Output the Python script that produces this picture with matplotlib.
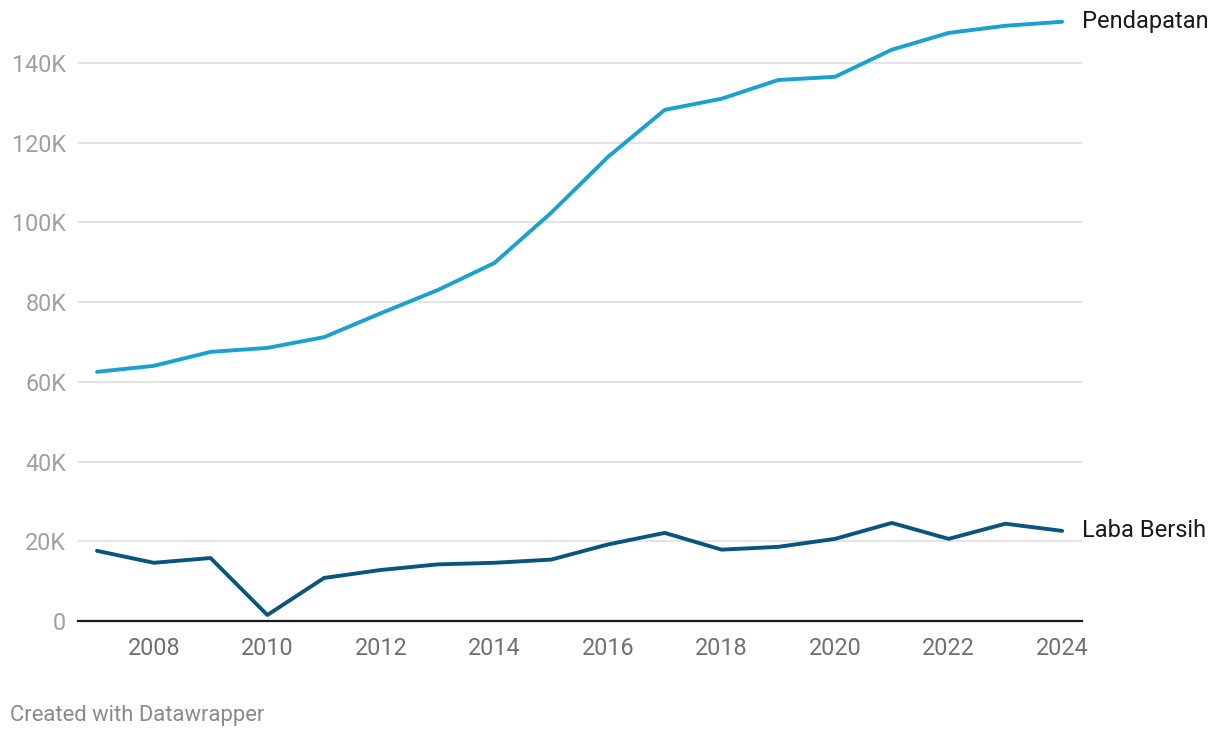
import matplotlib.pyplot as plt
from matplotlib.ticker import FuncFormatter

years = list(range(2007, 2025))
pendapatan = [62.5, 64.0, 67.5, 68.5, 71.2, 77.2, 83.0, 89.8, 102.4, 116.4,
              128.2, 131.0, 135.7, 136.5, 143.3, 147.5, 149.3, 150.3]
laba_bersih = [17.6, 14.6, 15.8, 1.5, 10.8, 12.8, 14.2, 14.6, 15.4, 19.2,
               22.1, 17.9, 18.6, 20.6, 24.6, 20.6, 24.4, 22.6]
y_ticks = [0, 20, 40, 60, 80, 100, 120, 140]
x_ticks = [2008, 2010, 2012, 2014, 2016, 2018, 2020, 2022, 2024]

plt.rcParams['font.family'] = ['Roboto', 'DejaVu Sans']

fig = plt.figure(figsize=(12.2, 7.38), dpi=100)
ax = fig.add_axes([78 / 1220, 117 / 738, 1004 / 1220, 606 / 738])

ax.plot(years, pendapatan, color='#1aa1d1', lw=2.8, solid_capstyle='round', zorder=3)
ax.plot(years, laba_bersih, color='#09557d', lw=2.8, solid_capstyle='round', zorder=3)

ax.text(years[-1] + 0.35, pendapatan[-1], 'Pendapatan', fontsize=17,
        color='#1a1a1a', va='center', ha='left')
ax.text(years[-1] + 0.35, laba_bersih[-1], 'Laba Bersih', fontsize=17,
        color='#1a1a1a', va='center', ha='left')

ax.set_xlim(2006.665, 2024.35)
ax.set_ylim(0, 152)
ax.set_yticks(y_ticks)
ax.set_xticks(x_ticks)
ax.yaxis.set_major_formatter(FuncFormatter(lambda v, p: '0' if v == 0 else f'{int(v)}K'))
ax.grid(axis='y', color='#e2e2e2', lw=1.3)
ax.set_axisbelow(True)
for s in ['top', 'right', 'left']:
    ax.spines[s].set_visible(False)
ax.spines['bottom'].set_color('#1a1a1a')
ax.spines['bottom'].set_linewidth(1.6)
ax.spines['bottom'].set_zorder(4)
ax.tick_params(axis='y', length=0, pad=8.5, labelsize=16.8, labelcolor='#a0a0a0')
ax.tick_params(axis='x', length=0, pad=11.5, labelsize=16.8, labelcolor='#707070')

fig.text(10 / 1220, 1 - 716 / 738, 'Created with Datawrapper', fontsize=15.8,
         color='#8a8a8a', va='center', ha='left')

fig.savefig('out.png', dpi=100)
